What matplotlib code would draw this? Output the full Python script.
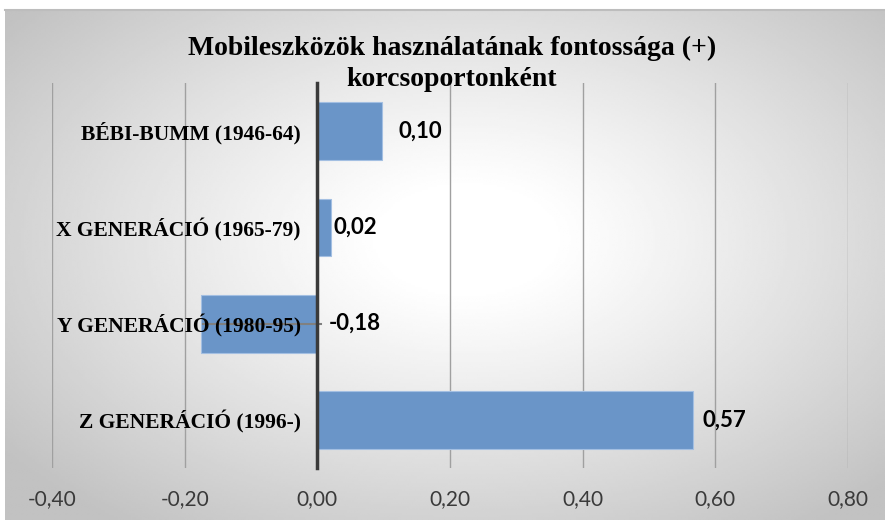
import numpy as np
import matplotlib
matplotlib.use("Agg")
from matplotlib import pyplot as plt
from matplotlib.ticker import FuncFormatter

# data, top to bottom as in the chart
categories = ["BÉBI-BUMM (1946-64)", "X GENERÁCIÓ (1965-79)",
              "Y GENERÁCIÓ (1980-95)", "Z GENERÁCIÓ (1996-)"]
values = [0.097, 0.021, -0.176, 0.566]
label_texts = ["0,10", "0,02", "-0,18", "0,57"]
xticks = [-0.4, -0.2, 0.0, 0.2, 0.4, 0.6, 0.8]

title = "Mobileszközök használatának fontossága (+)\nkorcsoportonként"

fig = plt.figure(figsize=(8.85, 5.2), dpi=100)
fig.patch.set_facecolor("white")

# radial gradient background of the chart area
bg = fig.add_axes([5 / 885, 0, 880 / 885, 510 / 520])
bg.set_axis_off()
gx, gy = np.meshgrid(np.linspace(-1, 1, 400), np.linspace(-1, 1, 240))
r = np.sqrt(((gx - 0.05) / 1.05) ** 2 + ((gy + 0.1) / 1.1) ** 2)
shade = np.clip(1.0 - 0.22 * np.clip(r - 0.18, 0, None) ** 1.1, 0.76, 1.0)
bg.imshow(shade, cmap="gray", vmin=0, vmax=1, aspect="auto",
          extent=[0, 1, 0, 1], interpolation="bilinear")
bg.set_xlim(0, 1)
bg.set_ylim(0, 1)
bg.plot([0, 1], [1, 1], color="#bdbdbd", lw=1.5, clip_on=False)

ax = fig.add_axes([52 / 885, 52 / 520, 796 / 885, 385 / 520])
ax.set_facecolor("none")

ypos = np.arange(len(categories))
ax.barh(ypos, values, height=0.6, color="#6a95c8", edgecolor="#a3bfe2",
        linewidth=0.8, zorder=2)

ax.set_xlim(-0.4, 0.8)
ax.set_ylim(len(categories) - 0.5, -0.5)
ax.set_xticks(xticks)
ax.xaxis.set_major_formatter(FuncFormatter(lambda v, p: f"{v:.2f}".replace(".", ",")))
ax.grid(axis="x", color="#a0a0a0", lw=1.0)
ax.xaxis.set_zorder(1)
ax.tick_params(axis="x", length=0, pad=15, labelsize=15, labelcolor="#3a3a3a")
for t in ax.get_xticklabels():
    t.set_family("Lato")

for s in ["top", "right", "bottom"]:
    ax.spines[s].set_visible(False)
ax.spines["left"].set_position(("data", 0))
ax.spines["left"].set_color("#3a3a3a")
ax.spines["left"].set_linewidth(2.5)
ax.spines["left"].set_zorder(4)

ax.set_yticks(ypos)
ax.set_yticklabels(categories, family="Liberation Serif", fontweight="bold",
                   fontsize=15.5)
ax.tick_params(axis="y", length=0, pad=12)
ax.yaxis.set_zorder(5)

# leader line for the negative bar label
ax.plot([values[2] + 0.004, 0.005], [2, 2], color="#808080", lw=1.5, zorder=4)

offsets = [12, 1.5, 8, 7]
for i, (v, txt) in enumerate(zip(values, label_texts)):
    ax.annotate(txt, xy=(max(v, 0), i), xytext=(offsets[i], 0),
                textcoords="offset points", ha="left", va="center",
                family="Lato", fontweight="bold", fontsize=16, color="black",
                zorder=6)

fig.text(452 / 885, 1 - 64 / 520, title, ha="center", va="center",
         family="Liberation Serif", fontweight="bold", fontsize=20,
         linespacing=1.35)

fig.savefig("out.png", dpi=100)
